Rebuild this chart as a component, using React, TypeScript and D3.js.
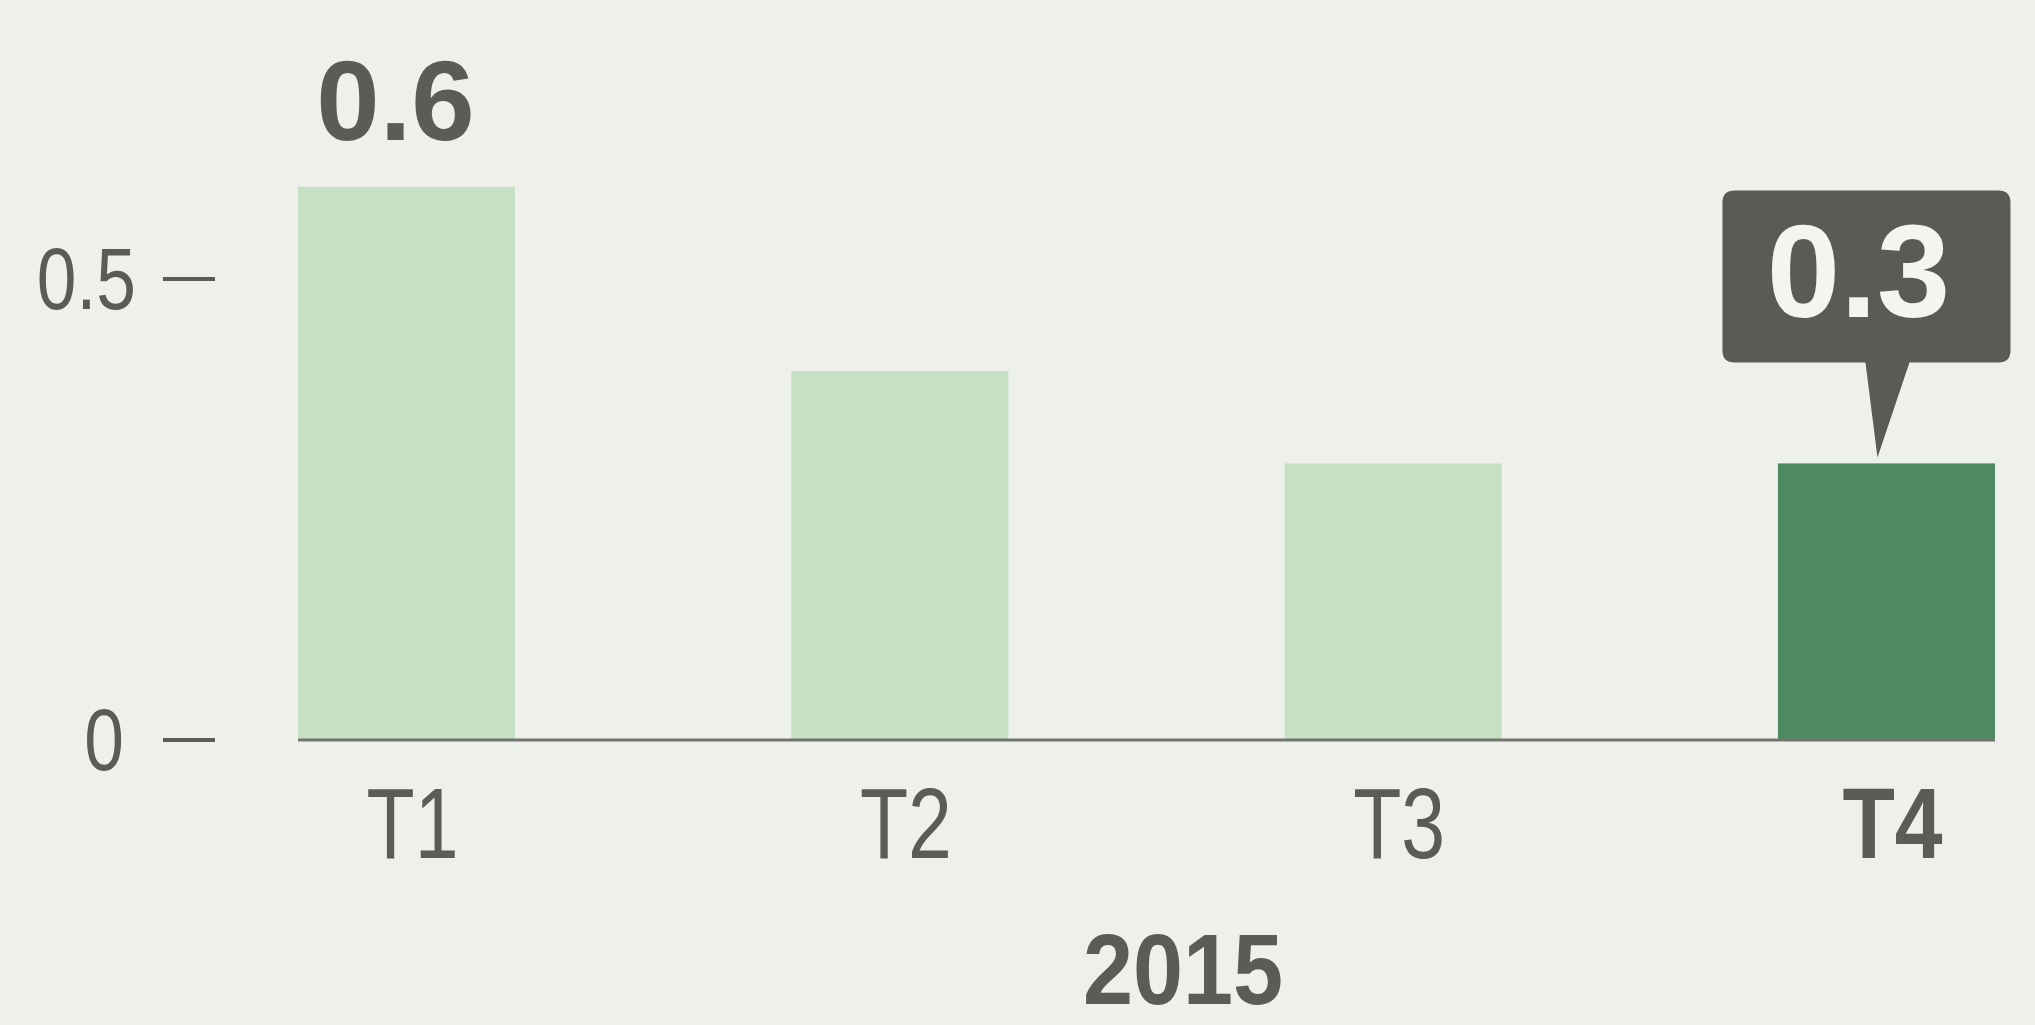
import React from "react";
import * as d3 from "d3";

const categories = ["T1", "T2", "T3", "T4"];
const values = [0.6, 0.4, 0.3, 0.3];
const yTicks = [0, 0.5];
const yTickLabels = ["0", "0.5"];
const highlighted = "T4";
const yearLabel = "2015";
const firstValueLabel = "0.6";
const calloutLabel = "0.3";

const W = 2035;
const H = 1025;
const TEXT = "#5a5c57";
const FONT = "'Liberation Sans', Arial, sans-serif";

export default function App() {
  const x = d3.scaleBand<string>().domain(categories).range([298, 1995]).paddingInner(0.56).paddingOuter(0);
  const y = d3.scaleLinear().domain([0, 0.5]).range([740, 279]);
  const bw = x.bandwidth();

  const t4x = (x(highlighted) as number) + bw / 2;
  const t4v = values[categories.indexOf(highlighted)];
  const t4top = y(t4v);
  const tipX = t4x - 9;
  const tipY = t4top - 6;
  const boxL = t4x - 164;
  const boxR = t4x + 124;
  const boxB = t4top - 101;
  const boxT = t4top - 273;
  const r = 12;
  const calloutPath = [
    `M${boxL + r},${boxT}`,
    `L${boxR - r},${boxT}`,
    `Q${boxR},${boxT} ${boxR},${boxT + r}`,
    `L${boxR},${boxB - r}`,
    `Q${boxR},${boxB} ${boxR - r},${boxB}`,
    `L${tipX + 32},${boxB}`,
    `L${tipX},${tipY}`,
    `L${tipX - 12},${boxB}`,
    `L${boxL + r},${boxB}`,
    `Q${boxL},${boxB} ${boxL},${boxB - r}`,
    `L${boxL},${boxT + r}`,
    `Q${boxL},${boxT} ${boxL + r},${boxT}`,
    "Z",
  ].join(" ");

  const t1x = (x(categories[0]) as number) + bw / 2;

  return (
    <svg width={W} height={H} style={{ position: "absolute", left: 0, top: 0, display: "block" }}>
      <rect x={0} y={0} width={W} height={H} fill="#eef0eb" />
      {/* bars */}
      {categories.map((c, i) => (
        <rect
          key={c}
          x={x(c)}
          y={y(values[i])}
          width={bw}
          height={y(0) - y(values[i])}
          fill={c === highlighted ? "#4e8a60" : "#c6e0c4"}
        />
      ))}
      {/* baseline */}
      <line x1={x.range()[0]} x2={x.range()[1]} y1={y(0)} y2={y(0)} stroke="#72746f" strokeWidth={3} />
      {/* y ticks */}
      {yTicks.map((t, i) => (
        <g key={t}>
          <line x1={163} x2={215} y1={y(t)} y2={y(t)} stroke={TEXT} strokeWidth={4} />
          <text
            transform={`translate(${t === 0 ? 124 : 136},${y(t) + 30}) scale(0.82,1)`}
            textAnchor="end"
            fontFamily={FONT}
            fontSize={87}
            fill={TEXT}
          >
            {yTickLabels[i]}
          </text>
        </g>
      ))}
      {/* category labels */}
      {categories.map((c) => (
        <text
          key={c}
          transform={`translate(${(x(c) as number) + bw / 2 + 6},${858}) scale(${c === highlighted ? 0.85 : 0.78},1)`}
          textAnchor="middle"
          fontFamily={FONT}
          fontWeight={c === highlighted ? 700 : 400}
          fontSize={101}
          fill={TEXT}
        >
          {c}
        </text>
      ))}
      {/* year label */}
      <text
        transform={`translate(${1183},${1004}) scale(0.9,1)`}
        textAnchor="middle"
        fontFamily={FONT}
        fontWeight={700}
        fontSize={100}
        fill={TEXT}
      >
        {yearLabel}
      </text>
      {/* value label for T1 */}
      <text
        transform={`translate(${t1x - 11},${y(values[0]) - 47})`}
        textAnchor="middle"
        fontFamily={FONT}
        fontWeight={700}
        fontSize={114}
        fill={TEXT}
      >
        {firstValueLabel}
      </text>
      {/* callout */}
      <path d={calloutPath} fill="#595b57" />
      <text
        transform={`translate(${t4x - 28},${boxB - 45})`}
        textAnchor="middle"
        fontFamily={FONT}
        fontWeight={700}
        fontSize={132}
        fill="#f4f5f1"
      >
        {calloutLabel}
      </text>
    </svg>
  );
}
